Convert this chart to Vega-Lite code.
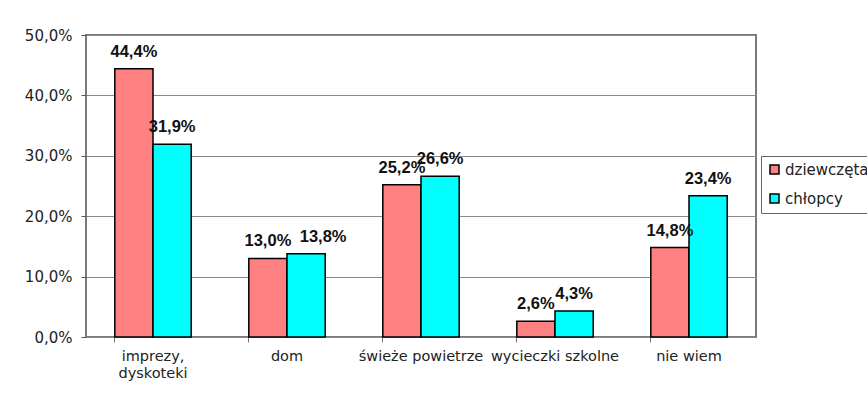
{
  "$schema": "https://vega.github.io/schema/vega-lite/v6.json",
  "width": 670,
  "height": 302,
  "autosize": "none",
  "padding": {"left": 86, "top": 35, "right": 111, "bottom": 66},
  "background": "white",
  "config": {
    "view": {"stroke": "#7a7a7a", "strokeWidth": 2},
    "font": "DejaVu Sans",
    "locale": {"number": {"decimal": ",", "thousands": " ", "grouping": [3], "currency": ["", " zł"]}}
  },
  "data": {
    "values": [
      {"kategoria": "imprezy, dyskoteki", "plec": "dziewczęta", "wartosc": 0.444},
      {"kategoria": "imprezy, dyskoteki", "plec": "chłopcy", "wartosc": 0.319},
      {"kategoria": "dom", "plec": "dziewczęta", "wartosc": 0.130},
      {"kategoria": "dom", "plec": "chłopcy", "wartosc": 0.138},
      {"kategoria": "świeże powietrze", "plec": "dziewczęta", "wartosc": 0.252},
      {"kategoria": "świeże powietrze", "plec": "chłopcy", "wartosc": 0.266},
      {"kategoria": "wycieczki szkolne", "plec": "dziewczęta", "wartosc": 0.026},
      {"kategoria": "wycieczki szkolne", "plec": "chłopcy", "wartosc": 0.043},
      {"kategoria": "nie wiem", "plec": "dziewczęta", "wartosc": 0.148},
      {"kategoria": "nie wiem", "plec": "chłopcy", "wartosc": 0.234}
    ]
  },
  "encoding": {
    "x": {
      "field": "kategoria",
      "type": "nominal",
      "sort": ["imprezy, dyskoteki", "dom", "świeże powietrze", "wycieczki szkolne", "nie wiem"],
      "scale": {"paddingInner": 0.43, "paddingOuter": 0.215},
      "axis": {
        "title": null,
        "labelAngle": 0,
        "labelFont": "DejaVu Sans",
        "labelFontSize": 14.5,
        "labelColor": "#222",
        "labelPadding": 7,
        "labelLineHeight": 17,
        "labelExpr": "datum.label == 'imprezy, dyskoteki' ? ['imprezy,', 'dyskoteki'] : datum.label",
        "bandPosition": 0,
        "tickSize": 5,
        "tickColor": "#777",
        "domain": false,
        "grid": false
      }
    },
    "xOffset": {
      "field": "plec",
      "type": "nominal",
      "sort": ["dziewczęta", "chłopcy"],
      "scale": {"paddingInner": 0, "paddingOuter": 0}
    },
    "y": {
      "field": "wartosc",
      "type": "quantitative",
      "scale": {"domain": [0, 0.5], "nice": false},
      "axis": {
        "title": null,
        "values": [0, 0.1, 0.2, 0.3, 0.4, 0.5],
        "format": ".1%",
        "labelFont": "DejaVu Sans",
        "labelFontSize": 15,
        "labelColor": "#222",
        "labelPadding": 9,
        "tickSize": 5,
        "tickColor": "#555",
        "domain": false,
        "grid": true,
        "gridColor": "#8a8a8a",
        "gridWidth": 1
      }
    }
  },
  "layer": [
    {
      "mark": {"type": "bar", "stroke": "black", "strokeWidth": 1.5},
      "encoding": {
        "color": {
          "field": "plec",
          "type": "nominal",
          "sort": ["dziewczęta", "chłopcy"],
          "scale": {"domain": ["dziewczęta", "chłopcy"], "range": ["#FF8080", "#00FFFF"]},
          "legend": {
            "title": null,
            "orient": "none",
            "legendX": 675,
            "legendY": 121,
            "symbolType": "square",
            "symbolSize": 81,
            "symbolStrokeColor": "black",
            "symbolStrokeWidth": 1.5,
            "labelFont": "DejaVu Sans",
            "labelFontSize": 15,
            "labelColor": "#222",
            "labelOffset": 3,
            "rowPadding": 13,
            "padding": 6,
            "strokeColor": "#666",
            "fillColor": "white"
          }
        }
      }
    },
    {
      "transform": [{"filter": "!(datum.kategoria == 'dom' && datum.plec == 'chłopcy')"}],
      "mark": {"type": "text", "font": "Liberation Sans", "fontWeight": "bold", "fontSize": 16.5, "baseline": "alphabetic", "dy": -12, "color": "#111"},
      "encoding": {
        "text": {"field": "wartosc", "type": "quantitative", "format": ".1%"}
      }
    },
    {
      "transform": [{"filter": "datum.kategoria == 'dom' && datum.plec == 'chłopcy'"}],
      "mark": {"type": "text", "font": "Liberation Sans", "fontWeight": "bold", "fontSize": 16.5, "baseline": "alphabetic", "dy": -12, "dx": 17, "color": "#111"},
      "encoding": {
        "text": {"field": "wartosc", "type": "quantitative", "format": ".1%"}
      }
    }
  ]
}
